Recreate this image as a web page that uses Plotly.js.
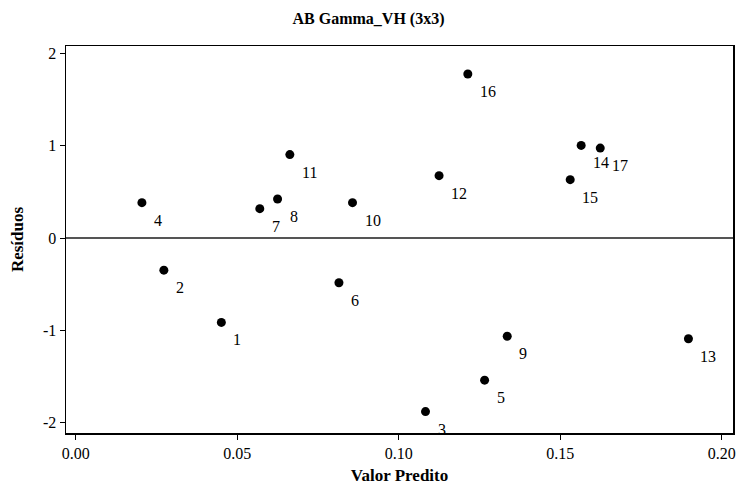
<!DOCTYPE html>
<html>
<head>
<meta charset="utf-8">
<script src="https://cdn.plot.ly/plotly-3.0.1.min.js"></script>
<style>html,body{margin:0;padding:0;background:#fff;}#chart{width:737px;height:486px;}</style>
</head>
<body>
<div id="chart"></div>
<script>
// Residuals vs predicted values, one labelled point per observation
const obsLabels = ["1","2","3","4","5","6","7","8","9","10","11","12","13","14","15","16","17"];
const predicted = [0.0451,0.0273,0.1083,0.0205,0.1266,0.0815,0.0570,0.0625,0.1336,0.0857,0.0663,0.1125,0.1897,0.1565,0.1531,0.1214,0.1624];
const residuals = [-0.913,-0.347,-1.878,0.384,-1.538,-0.483,0.319,0.423,-1.062,0.384,0.904,0.676,-1.090,1.004,0.633,1.777,0.975];
const xTickVals = [0, 0.05, 0.10, 0.15, 0.20];
const xTickText = ["0.00","0.05","0.10","0.15","0.20"];
const yTickVals = [-2, -1, 0, 1, 2];
const yTickText = ["-2","-1","0","1","2"];

const serif = "Liberation Serif, Times New Roman, serif";

const trace = {
  type: "scatter",
  mode: "markers",
  x: predicted,
  y: residuals,
  marker: {color: "#000", size: 9},
  hoverinfo: "skip"
};

// point labels sit below-right of each marker
const annotations = obsLabels.map((t, i) => ({
  x: predicted[i], y: residuals[i], xref: "x", yref: "y",
  text: t, showarrow: false, xanchor: "left", yanchor: "middle",
  xshift: 12, yshift: -17.5, borderpad: 0, borderwidth: 0,
  font: {family: serif, size: 16, color: "#000"}
}));

const layout = {
  width: 737, height: 486,
  margin: {l: 66, r: 4, t: 46, b: 53},
  paper_bgcolor: "#fff", plot_bgcolor: "#fff",
  showlegend: false,
  title: {text: "<b>AB Gamma_VH (3x3)</b>", x: 0.5, xanchor: "center", y: 0.963, yanchor: "middle",
          font: {family: serif, size: 16, color: "#000"}},
  xaxis: {
    range: [-0.0030, 0.2035], tickvals: xTickVals, ticktext: xTickText,
    showgrid: false, zeroline: false, showline: true, linecolor: "#000", linewidth: 1.5,
    mirror: true, ticks: "outside", ticklen: 5, tickwidth: 1.2, tickcolor: "#000",
    tickfont: {family: serif, size: 16, color: "#000"},
    title: {text: "<b>Valor Predito</b>", font: {family: serif, size: 17, color: "#000"}, standoff: 8}
  },
  yaxis: {
    range: [-2.11, 2.08], tickvals: yTickVals, ticktext: yTickText,
    showgrid: false, zeroline: true, zerolinecolor: "#555", zerolinewidth: 1.5,
    showline: true, linecolor: "#000", linewidth: 1.5,
    mirror: true, ticks: "outside", ticklen: 5, tickwidth: 1.2, tickcolor: "#000",
    tickfont: {family: serif, size: 16, color: "#000"},
    title: {text: "<b>Resíduos</b>", font: {family: serif, size: 17, color: "#000"}, standoff: 15}
  },
  annotations: annotations
};

Plotly.newPlot("chart", [trace], layout, {staticPlot: true, displayModeBar: false});
</script>
</body>
</html>
